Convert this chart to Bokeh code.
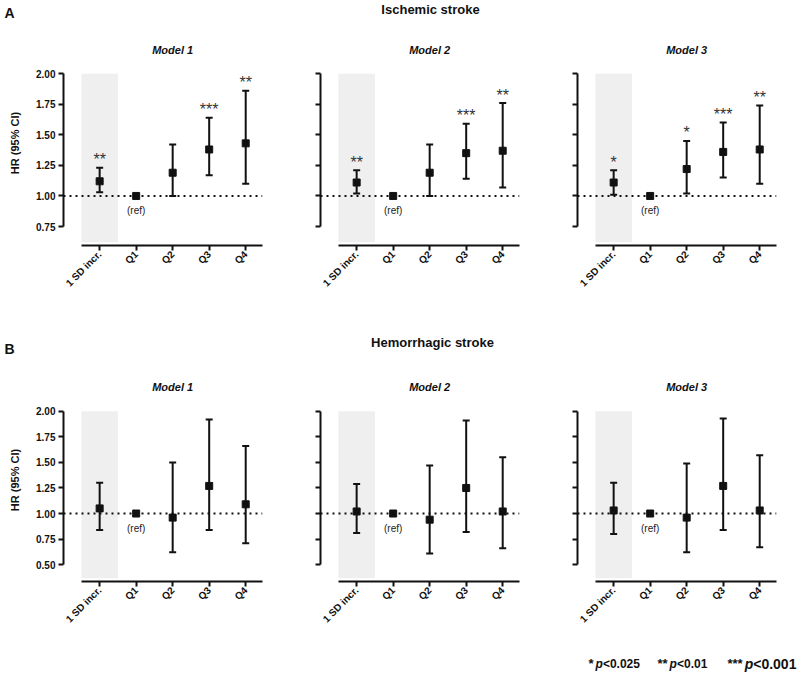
import math
from bokeh.plotting import figure
from bokeh.models import (Range1d, FixedTicker, Span, Whisker, TeeHead,
                          ColumnDataSource, NumeralTickFormatter)
from bokeh.layouts import column, row
from bokeh.embed import file_html
from bokeh.resources import INLINE
from bokeh.core.properties import value

# ---------------- data ----------------
categories = ["1 SD incr.", "Q1", "Q2", "Q3", "Q4"]
model_titles = ["Model 1", "Model 2", "Model 3"]

# Ischemic stroke
isch_m1_hr = [1.12, 1.00, 1.19, 1.38, 1.43]
isch_m1_lo = [1.03, 1.00, 1.00, 1.17, 1.10]
isch_m1_hi = [1.23, 1.00, 1.42, 1.64, 1.86]
isch_m1_sig = ["**", "", "", "***", "**"]

isch_m2_hr = [1.11, 1.00, 1.19, 1.35, 1.37]
isch_m2_lo = [1.02, 1.00, 1.00, 1.14, 1.07]
isch_m2_hi = [1.21, 1.00, 1.42, 1.59, 1.76]
isch_m2_sig = ["**", "", "", "***", "**"]

isch_m3_hr = [1.11, 1.00, 1.22, 1.36, 1.38]
isch_m3_lo = [1.01, 1.00, 1.02, 1.15, 1.10]
isch_m3_hi = [1.21, 1.00, 1.45, 1.60, 1.74]
isch_m3_sig = ["*", "", "*", "***", "**"]

# Hemorrhagic stroke
hem_m1_hr = [1.05, 1.00, 0.96, 1.27, 1.09]
hem_m1_lo = [0.84, 1.00, 0.62, 0.84, 0.71]
hem_m1_hi = [1.30, 1.00, 1.50, 1.92, 1.66]

hem_m2_hr = [1.02, 1.00, 0.94, 1.25, 1.02]
hem_m2_lo = [0.81, 1.00, 0.61, 0.82, 0.66]
hem_m2_hi = [1.29, 1.00, 1.47, 1.91, 1.55]

hem_m3_hr = [1.03, 1.00, 0.96, 1.27, 1.03]
hem_m3_lo = [0.80, 1.00, 0.62, 0.84, 0.67]
hem_m3_hi = [1.30, 1.00, 1.49, 1.93, 1.57]
hem_sig = ["", "", "", "", ""]

isch_ticks = [0.75, 1.00, 1.25, 1.50, 1.75, 2.00]
hem_ticks = [0.50, 0.75, 1.00, 1.25, 1.50, 1.75, 2.00]

legend_items = [("*", "<0.025"), ("**", "<0.01"), ("***", "<0.001")]

FONT = "Liberation Sans"
INK = "#111111"


def panel(hr, lo, hi, sig, title, ticks, y_start, y_end, first,
          width, left_b, right_b, height, top_b, bottom_b):
    xs = list(range(len(categories)))
    p = figure(width=width, height=height,
               x_range=Range1d(-0.99, 4.46), y_range=Range1d(y_start, y_end),
               output_backend="svg", toolbar_location=None, title=None,
               min_border_left=left_b, min_border_right=right_b,
               min_border_top=top_b, min_border_bottom=bottom_b)
    p.outline_line_color = None
    p.grid.visible = False
    p.background_fill_color = "white"
    p.border_fill_color = "white"

    top_tick = max(ticks)
    # shaded column behind the "1 SD incr." estimate
    p.vbar(x=[xs[0]], width=1.0, top=[top_tick],
           bottom=[y_start + (y_end - y_start) * 0.016],
           fill_color="#efefef", line_color=None)

    # reference line at HR = 1
    p.add_layout(Span(location=1.0, dimension="width", line_color=INK,
                      line_width=2, line_dash="2 4"))

    # error bars (skip reference category with no CI)
    keep = [i for i in xs if lo[i] != hi[i]]
    src = ColumnDataSource(dict(x=[xs[i] for i in keep],
                                lo=[lo[i] for i in keep],
                                hi=[hi[i] for i in keep]))
    w = Whisker(base="x", lower="lo", upper="hi", source=src,
                line_color=INK, line_width=2, level="annotation",
                upper_head=TeeHead(size=7, line_width=2, line_color=INK),
                lower_head=TeeHead(size=7, line_width=2, line_color=INK))
    p.add_layout(w)

    p.scatter(x=xs, y=hr, marker="square", size=7, fill_color=INK,
              line_color=INK, line_width=1)

    # significance stars
    p.text(x=xs, y=hi, text=sig, y_offset=-8, text_align="center",
           text_baseline="alphabetic", text_font=value(FONT),
           text_font_size="16px", text_color="#333333")

    # reference label
    ref_idx = [i for i in xs if lo[i] == hi[i]][0]
    p.text(x=[xs[ref_idx]], y=[hr[ref_idx]], text=["(ref)"], y_offset=15,
           text_align="center", text_baseline="middle", text_font=value(FONT),
           text_font_size="10px", text_color="#222222")

    # panel title (centred over the middle category)
    p.text(x=[xs[len(xs) // 2]], y=[top_tick], text=[title], y_offset=-24,
           text_align="center", text_baseline="middle", text_font=value(FONT),
           text_font_size="11px", text_font_style="bold italic",
           text_color=INK)

    # axes
    xa = p.xaxis[0]
    xa.ticker = FixedTicker(ticks=xs)
    xa.major_label_overrides = {i: c for i, c in zip(xs, categories)}
    xa.bounds = (xs[0] - 0.5, 4.46)
    xa.major_label_orientation = math.pi / 4
    xa.major_label_standoff = 2

    ya = p.yaxis[0]
    ya.ticker = FixedTicker(ticks=ticks)
    ya.formatter = NumeralTickFormatter(format="0.00")
    ya.bounds = (min(ticks), max(ticks))
    ya.major_label_standoff = 3

    for ax in (xa, ya):
        ax.axis_line_width = 2
        ax.axis_line_color = INK
        ax.major_tick_line_width = 2
        ax.major_tick_line_color = INK
        ax.major_tick_out = 5
        ax.major_tick_in = 0
        ax.minor_tick_line_color = None
        ax.major_label_text_font = FONT
        ax.major_label_text_font_style = "bold"
        ax.major_label_text_font_size = "10px"
        ax.major_label_text_color = INK

    if first:
        ya.axis_label = "HR (95% CI)"
        ya.axis_label_text_font = FONT
        ya.axis_label_text_font_style = "bold"
        ya.axis_label_text_font_size = "11px"
        ya.axis_label_text_color = INK
        ya.axis_label_standoff = 12
    else:
        ya.major_label_overrides = {t: "" for t in ticks}
        ya.major_label_standoff = 0
    return p


def header(height, items):
    h = figure(width=800, height=height, x_range=Range1d(0, 800),
               y_range=Range1d(height, 0), output_backend="svg",
               toolbar_location=None, title=None, min_border=0,
               x_axis_location=None, y_axis_location=None)
    h.outline_line_color = None
    h.grid.visible = False
    for (x, y, txt, size, style, align) in items:
        h.text(x=[x], y=[y], text=[txt], text_font=value(FONT),
               text_font_size=size, text_font_style=style,
               text_align=align, text_baseline="middle", text_color=INK)
    return h


widths = [(290, 63, 28), (257, 30, 28), (253, 30, 24)]

isch = [(isch_m1_hr, isch_m1_lo, isch_m1_hi, isch_m1_sig),
        (isch_m2_hr, isch_m2_lo, isch_m2_hi, isch_m2_sig),
        (isch_m3_hr, isch_m3_lo, isch_m3_hi, isch_m3_sig)]
hem = [(hem_m1_hr, hem_m1_lo, hem_m1_hi, hem_sig),
       (hem_m2_hr, hem_m2_lo, hem_m2_hi, hem_sig),
       (hem_m3_hr, hem_m3_lo, hem_m3_hi, hem_sig)]

top_panels = []
for k, (d, (w, lb, rb)) in enumerate(zip(isch, widths)):
    top_panels.append(panel(*d, model_titles[k], isch_ticks, 0.595, 2.271,
                            k == 0, w, lb, rb, 273, 18, 49))
bot_panels = []
for k, (d, (w, lb, rb)) in enumerate(zip(hem, widths)):
    bot_panels.append(panel(*d, model_titles[k], hem_ticks, 0.335, 2.321,
                            k == 0, w, lb, rb, 271, 18, 49))

head_a = header(22, [(4, 12, "A", "14px", "bold", "left"),
                     (430, 9, "Ischemic stroke", "13px", "bold", "center")])
head_b = header(65, [(4, 53, "B", "14px", "bold", "left"),
                     (432, 47, "Hemorrhagic stroke", "13px", "bold", "center")])

# footer legend
FOOT_H = 43
foot = figure(width=800, height=FOOT_H, x_range=Range1d(0, 800),
              y_range=Range1d(FOOT_H, 0), output_backend="svg",
              toolbar_location=None, title=None, min_border=0,
              x_axis_location=None, y_axis_location=None)
foot.outline_line_color = None
foot.grid.visible = False
starts = [588, 657, 727]
sizes = [12, 12, 14]
base_y = 32
for (stars, txt), x0, fs in zip(legend_items, starts, sizes):
    star_w = 0.389 * 13 * len(stars)
    foot.text(x=[x0], y=[base_y], text=[stars], text_font=value(FONT),
              text_font_size="13px", text_font_style="bold",
              text_baseline="alphabetic", text_align="left", text_color=INK)
    xp = x0 + star_w + 2
    foot.text(x=[xp], y=[base_y], text=["p"], text_font=value(FONT),
              text_font_size=f"{fs}px", text_font_style="bold italic",
              text_baseline="alphabetic", text_align="left", text_color=INK)
    foot.text(x=[xp + 0.611 * fs], y=[base_y], text=[txt],
              text_font=value(FONT), text_font_size=f"{fs}px",
              text_font_style="bold", text_baseline="alphabetic",
              text_align="left", text_color=INK)

layout = column(head_a, row(*top_panels), head_b, row(*bot_panels), foot)

open("out.html", "w").write(file_html(layout, INLINE))
